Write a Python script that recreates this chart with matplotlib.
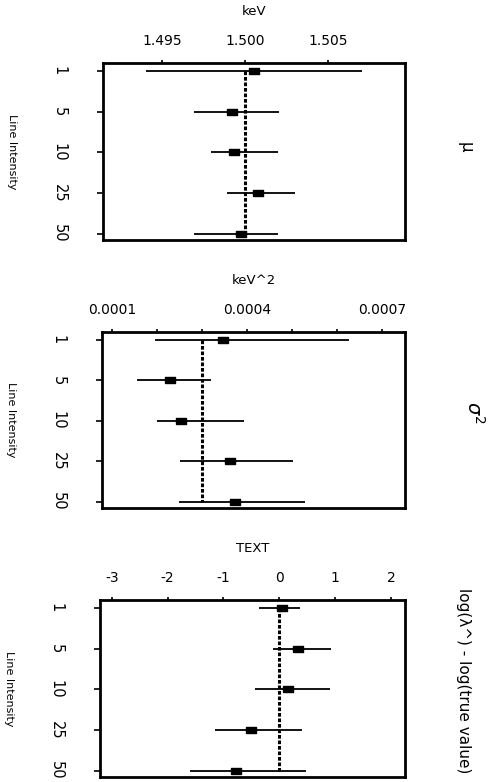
import matplotlib
matplotlib.use('Agg')
import matplotlib.pyplot as plt

intensity = ['1', '5', '10', '25', '50']

# mu (keV)
mu_est = [1.50054, 1.49922, 1.49934, 1.50078, 1.49976]
mu_lo = [1.49404, 1.49693, 1.49795, 1.49892, 1.49693]
mu_hi = [1.50705, 1.50205, 1.50199, 1.50301, 1.50199]
mu_true = 1.500

# sigma^2 (keV^2)
sig_est = [0.000347, 0.000229, 0.000253, 0.000362, 0.000373]
sig_lo = [0.000196, 0.000156, 0.000200, 0.000251, 0.000249]
sig_hi = [0.000627, 0.000320, 0.000393, 0.000502, 0.000529]
sig_true = 0.0003

# log(lambda^) - log(true value)
lam_est = [0.04, 0.34, 0.16, -0.50, -0.77]
lam_lo = [-0.36, -0.11, -0.43, -1.16, -1.59]
lam_hi = [0.375, 0.93, 0.91, 0.41, 0.48]
lam_true = 0.0

narrow = ['DejaVu Sans']
rect = [(-1, -0.6), (1, -0.6), (1, 0.6), (-1, 0.6), (-1, -0.6)]

fig = plt.figure(figsize=(4.98, 7.82), dpi=100)

panels = [
    dict(pos=[103/498, 1-240/782, 302/498, 177/782], est=mu_est, lo=mu_lo, hi=mu_hi,
         true=mu_true, xlim=(1.49145, 1.50964), ticks=[1.495, 1.500, 1.505],
         labels=['1.495', '1.500', '1.505'], minor=[], xlabel='keV'),
    dict(pos=[102/498, 1-508/782, 303/498, 176/782], est=sig_est, lo=sig_lo, hi=sig_hi,
         true=sig_true, xlim=(0.0000778, 0.000751), ticks=[0.0001, 0.0004, 0.0007],
         labels=['0.0001', '0.0004', '0.0007'],
         minor=[0.0002, 0.0003, 0.0005, 0.0006], xlabel='keV^2'),
    dict(pos=[100/498, 1-777/782, 305/498, 177/782], est=lam_est, lo=lam_lo, hi=lam_hi,
         true=lam_true, xlim=(-3.21, 2.25), ticks=[-3, -2, -1, 0, 1, 2],
         labels=['-3', '-2', '-1', '0', '1', '2'], minor=[], xlabel='TEXT'),
]

for p in panels:
    ax = fig.add_axes(p['pos'])
    rows = list(range(len(intensity)))
    ax.hlines(rows, p['lo'], p['hi'], color='black', lw=1.3, zorder=2)
    ax.plot([p['true'], p['true']], [rows[0], rows[-1]], color='black', lw=2.2,
            linestyle=(0, (1.2, 0.6)), zorder=3)
    ax.plot(p['est'], rows, linestyle='none', marker=rect, markersize=7.5,
            color='black', zorder=4)
    ax.set_xlim(*p['xlim'])
    ax.set_ylim(4.16, -0.2)
    ax.xaxis.tick_top()
    ax.xaxis.set_label_position('top')
    ax.set_xticks(p['ticks'])
    ax.set_xticklabels(p['labels'])
    ax.set_xticks(p['minor'], minor=True)
    ax.set_xlabel(p['xlabel'], fontsize=9.5, labelpad=14)
    ax.tick_params(axis='x', which='both', direction='out', length=2.5, width=1.2,
                   labelsize=10, pad=8)
    ax.set_yticks(rows)
    ax.set_yticklabels(intensity, rotation=-90, va='center', family=narrow,
                       fontsize=10.5)
    ax.tick_params(axis='y', direction='out', length=4, width=1.2, pad=22)
    for s in ax.spines.values():
        s.set_linewidth(2)
    ax.text(-0.3, 0.5, 'Line Intensity', rotation=-90, ha='center', va='center',
            transform=ax.transAxes, family=narrow, fontsize=8)

fig.text(466/498, 1-147/782, 'μ', rotation=-90, ha='center', va='center', fontsize=12)
fig.text(474/498, 1-412/782, r'$\sigma^2$', rotation=-90, ha='center', va='center',
         fontsize=14)
fig.text(463/498, 1-681/782, 'log(λ^) - log(true value)', rotation=-90, ha='center',
         va='center', family=narrow, fontsize=11)

fig.savefig('out.png', dpi=100)
